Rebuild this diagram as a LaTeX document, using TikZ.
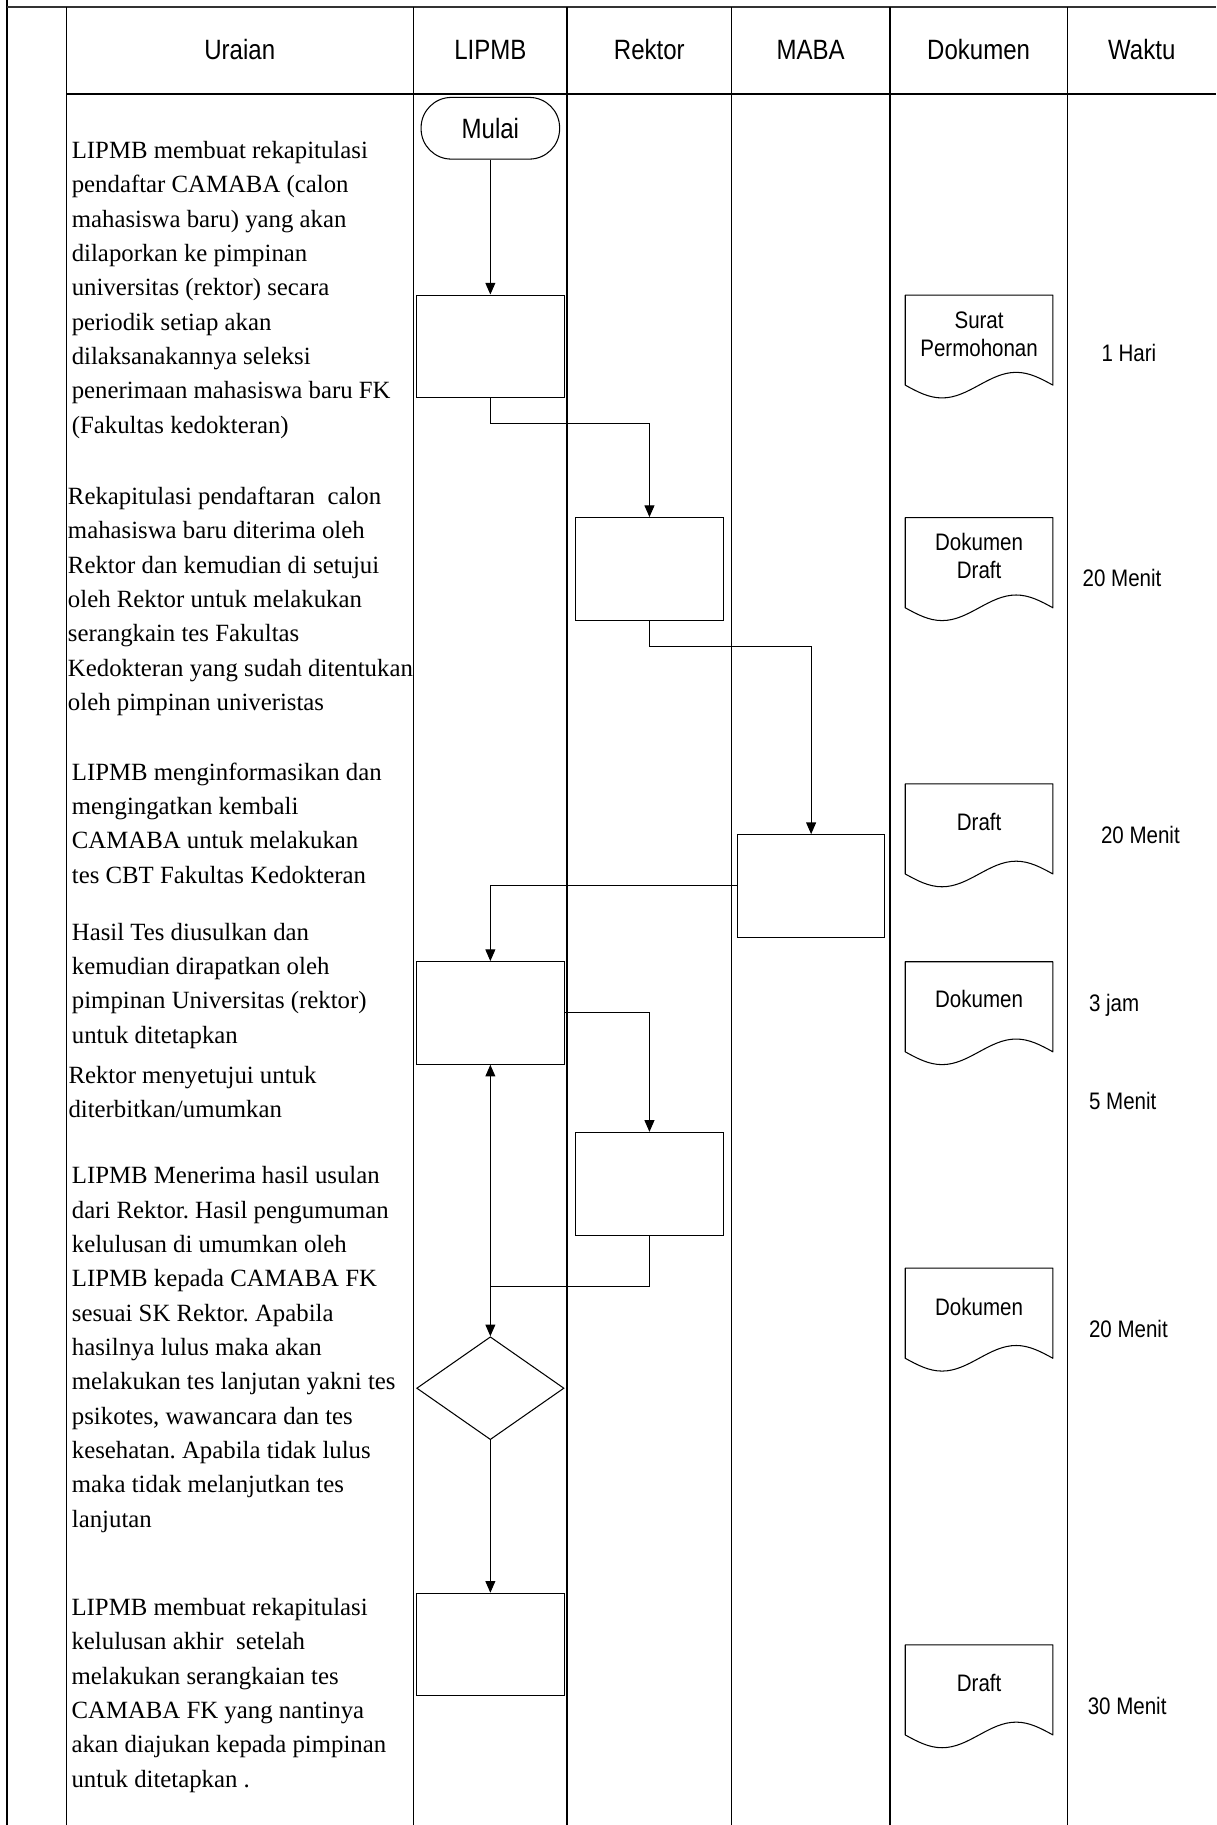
\documentclass[tikz,border=0pt]{standalone}
\usepackage{fontspec}
\setmainfont{Liberation Serif}
\newfontfamily\sansf[FakeStretch=0.86]{Liberation Sans}
\usetikzlibrary{arrows.meta,shapes.geometric,calc}
\frenchspacing
\tikzset{
  tline/.style={line width=1.1pt},
  fbox/.style={draw, line width=0.9pt, minimum width=126.6pt, minimum height=88.2pt, inner sep=0pt},
  term/.style={draw, line width=0.9pt, rounded corners=26pt, minimum width=119pt, minimum height=53pt, inner sep=0pt, font=\sansf\fontsize{24}{28}\selectfont},
  dec/.style={draw, diamond, line width=0.9pt, minimum width=126.6pt, minimum height=88.4pt, inner sep=0pt},
  arr/.style={line width=0.9pt, -{Triangle[length=10pt,width=8.5pt]}},
  arrboth/.style={line width=0.9pt, {Triangle[length=10pt,width=8.5pt]}-{Triangle[length=10pt,width=8.5pt]}},
  conn/.style={line width=0.9pt},
  hdr/.style={font=\sansf\fontsize{24}{28}\selectfont, inner sep=0pt, anchor=base},
  lbl/.style={font=\sansf\fontsize{20.5}{24}\selectfont, inner sep=0pt, anchor=base},
  tm/.style={font=\sansf\fontsize{20.5}{24}\selectfont, inner sep=0pt, anchor=base west},
  body/.style={font=\frenchspacing\fontsize{21.3}{29.5}\selectfont, inner sep=0pt, anchor=north west, align=left},
  docnode/.style={minimum width=126.5pt, minimum height=88pt, inner sep=0pt, anchor=north},
  docline/.style={line width=0.9pt, line join=round},
}
\newcommand\docshape[3]{%
  \node[docnode] (#1) at (#2,#3) {};
  \draw[docline] ($(#1.south west)+(0,-11)$) -- (#1.north west) -- (#1.north east)
     -- ($(#1.south east)+(0,-11)$)
     sin ($(#1.south east)+(-31.6,-22)$)
     cos ($(#1.south)+(0,-11)$)
     sin ($(#1.south west)+(31.6,0)$)
     cos ($(#1.south west)+(0,-11)$) -- cycle;
}
\begin{document}
\begin{tikzpicture}[x=1pt,y=-1pt]
\useasboundingbox (0,0) rectangle (1045,1568);
% table frame
\draw[line width=1.3pt] (5.8,0) -- (5.8,1568);
\draw[line width=2.2pt, black!80] (5.8,5.9) -- (1045,5.9);
\foreach \cx in {57,355.5,487.2,628.5,764.6,917}
  \draw[tline] (\cx,5.9) -- (\cx,1568);
\draw[tline] (57,80.8) -- (1045,80.8);
% headers
\node[hdr] (hU) at (206,51.3) {Uraian};
\node[hdr] (hL) at (421.3,51.3) {LIPMB};
\node[hdr] (hR) at (557.9,51.3) {Rektor};
\node[hdr] (hM) at (696.5,51.3) {MABA};
\node[hdr] (hD) at (840.8,51.3) {Dokumen};
\node[hdr] (hW) at (981,51.3) {Waktu};
% uraian texts
\node[body] (t1) at (61.5,115.3) {\strut LIPMB membuat rekapitulasi\\pendaftar CAMABA (calon\\mahasiswa baru) yang akan\\dilaporkan ke pimpinan\\universitas (rektor) secara\\periodik setiap akan\\dilaksanakannya seleksi\\penerimaan mahasiswa baru FK\\(Fakultas kedokteran)};
\node[body] (t2) at (58.2,412.5) {\strut Rekapitulasi pendaftaran\ \ calon\\mahasiswa baru diterima oleh\\Rektor dan kemudian di setujui\\oleh Rektor untuk melakukan\\serangkain tes Fakultas\\Kedokteran yang sudah ditentukan\\oleh pimpinan univeristas};
\node[body] (t3) at (61.6,649.4) {\strut LIPMB menginformasikan dan\\mengingatkan kembali\\CAMABA untuk melakukan\\tes CBT Fakultas Kedokteran};
\node[body] (t4) at (61.6,786.9) {\strut Hasil Tes diusulkan dan\\kemudian dirapatkan oleh\\pimpinan Universitas (rektor)\\untuk ditetapkan};
\node[body] (t5) at (58.7,909.8) {\strut Rektor menyetujui untuk\\diterbitkan/umumkan};
\node[body] (t6) at (61.6,996.2) {\strut LIPMB Menerima hasil usulan\\dari Rektor. Hasil pengumuman\\kelulusan di umumkan oleh\\LIPMB kepada CAMABA FK\\sesuai SK Rektor. Apabila\\hasilnya lulus maka akan\\melakukan tes lanjutan yakni tes\\psikotes, wawancara dan tes\\kesehatan. Apabila tidak lulus\\maka tidak melanjutkan tes\\lanjutan};
\node[body] (t7) at (61.3,1367.2) {\strut LIPMB membuat rekapitulasi\\kelulusan akhir\ \ setelah\\melakukan serangkaian tes\\CAMABA FK yang nantinya\\akan diajukan kepada pimpinan\\untuk ditetapkan .};
% flow shapes
\node[term] (mulai) at (421.3,110.2) {Mulai};
\node[fbox] (b1) at (421.3,297.6) {};
\node[fbox] (b2) at (558,488.8) {};
\node[fbox] (b3) at (696.9,761.2) {};
\node[fbox] (b4) at (421.3,870.3) {};
\node[fbox] (b5) at (558,1017) {};
\node[dec] (dm) at (421.3,1192.7) {};
\node[fbox] (b6) at (421.3,1413) {};
\coordinate (jn) at (421.3,1105);
% connectors
\draw[arr] (mulai.south) -- (b1.north);
\draw[arr] (b1.south) -- ++(0,21.6) -| (b2.north);
\draw[arr] (b2.south) -- ++(0,21.7) -| (b3.north);
\draw[arr] (b3.west) -| (b4.north);
\draw[arr] (b4.east) -| (b5.north);
\draw[conn] (b5.south) |- (jn);
\draw[arrboth] (b4.south) -- (dm.north);
\draw[arr] (dm.south) -- (b6.north);
% documents
\docshape{d1}{841.2}{253.5}
\docshape{d2}{841.2}{444.8}
\docshape{d3}{841.2}{673.5}
\docshape{d4}{841.2}{826.3}
\docshape{d5}{841.2}{1089.6}
\docshape{d6}{841.2}{1413.2}
\node[lbl] (l1a) at (841.2,282.3) {Surat};
\node[lbl] (l1b) at (841.2,306.7) {Permohonan};
\node[lbl] (l2a) at (841.2,472.6) {Dokumen};
\node[lbl] (l2b) at (841.2,497.2) {Draft};
\node[lbl] (l3) at (841.2,713.5) {Draft};
\node[lbl] (l4) at (841.2,865.8) {Dokumen};
\node[lbl] (l5) at (841.2,1130.4) {Dokumen};
\node[lbl] (l6) at (841.2,1453.3) {Draft};
% waktu
\node[tm] (w1) at (946.2,311) {1 Hari};
\node[tm] (w2) at (930,504) {20 Menit};
\node[tm] (w3) at (945.8,724.3) {20 Menit};
\node[tm] (w4) at (935.5,869.4) {3 jam};
\node[tm] (w5) at (935.5,953.3) {5 Menit};
\node[tm] (w6) at (935.5,1149.3) {20 Menit};
\node[tm] (w7) at (934.4,1473.3) {30 Menit};
\end{tikzpicture}
\end{document}
